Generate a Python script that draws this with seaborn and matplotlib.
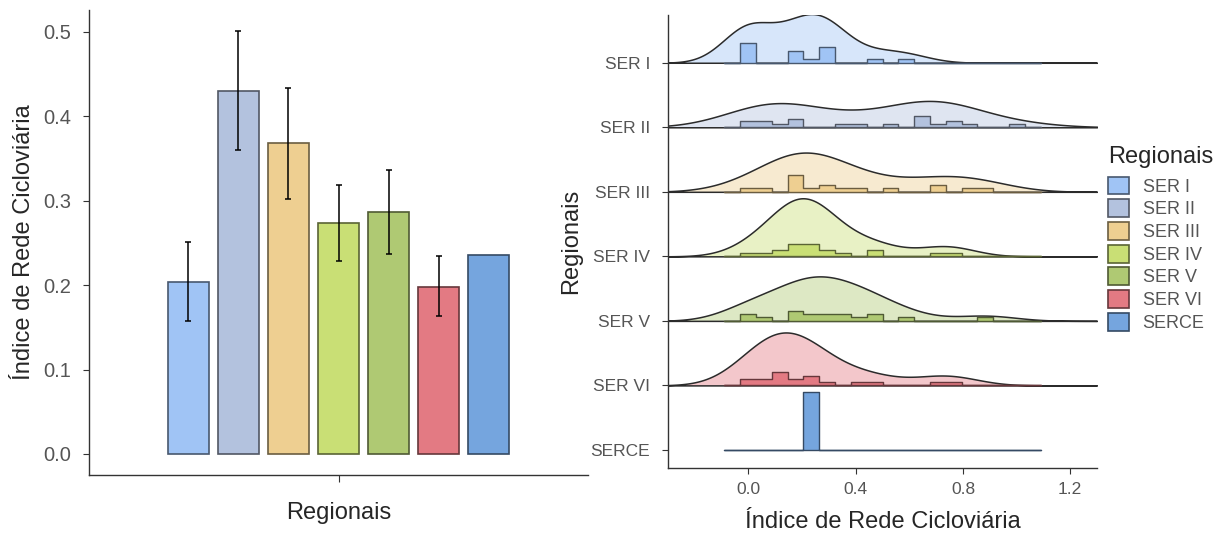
import numpy as np
import pandas as pd
import matplotlib
matplotlib.use('Agg')
import matplotlib.pyplot as plt
import matplotlib.transforms as mtransforms
from matplotlib.patches import Patch
from matplotlib.colors import to_rgb
import seaborn as sns

# ─── Dados ────────────────────────────────────────────────────────────────────
REGIONAIS = ['SER I', 'SER II', 'SER III', 'SER IV', 'SER V', 'SER VI', 'SERCE']
CORES     = ['#A0C4F5', '#B3C2DE', '#EECF91', '#C9DF75', '#AFC973', '#E37A83', '#75A5DE']

# média e intervalo (barra de erro) por regional
MEDIA  = [0.204, 0.430, 0.368, 0.274, 0.287, 0.198, 0.236]
IC_INF = [0.158, 0.360, 0.302, 0.229, 0.237, 0.163, np.nan]
IC_SUP = [0.251, 0.501, 0.434, 0.319, 0.336, 0.234, np.nan]

# histograma: 20 classes entre -0.09 e 1.09
BIN_INI, BIN_FIM, N_BINS = -0.09, 1.09, 20
CONT_SER_I   = [0, 5, 0, 0, 3, 1, 4, 0, 0, 1, 0, 1, 0, 0, 0, 0, 0, 0, 0, 0]
CONT_SER_II  = [0, 2, 2, 1, 3, 0, 0, 1, 1, 0, 1, 0, 4, 1, 2, 1, 0, 0, 1, 0]
CONT_SER_III = [0, 1, 1, 0, 5, 1, 2, 1, 1, 0, 1, 0, 0, 2, 0, 1, 1, 0, 0, 0]
CONT_SER_IV  = [0, 1, 1, 2, 4, 4, 2, 1, 0, 2, 0, 0, 0, 1, 1, 0, 0, 0, 0, 0]
CONT_SER_V   = [0, 2, 1, 0, 3, 2, 2, 2, 1, 2, 0, 1, 0, 0, 0, 0, 1, 0, 0, 0]
CONT_SER_VI  = [0, 2, 2, 4, 2, 3, 1, 0, 1, 1, 0, 0, 0, 1, 1, 0, 0, 0, 0, 0]
CONT_SERCE   = [0, 0, 0, 0, 0, 1, 0, 0, 0, 0, 0, 0, 0, 0, 0, 0, 0, 0, 0, 0]
CONTAGENS = [CONT_SER_I, CONT_SER_II, CONT_SER_III, CONT_SER_IV,
             CONT_SER_V, CONT_SER_VI, CONT_SERCE]

ESCALA = 0.9   # altura máxima das cristas (em linhas)


def escurecer(cor, f=0.5):
    return tuple(c * f for c in to_rgb(cor))


# ─── Estilo ───────────────────────────────────────────────────────────────────
sns.set_style('ticks')
plt.rcParams['font.family'] = ['Liberation Sans', 'DejaVu Sans']
CINZA_TXT = '#555555'
CINZA_EIXO = '#333333'
TAM_TITULO = 17

fig = plt.figure(figsize=(12.25, 5.34), dpi=100)
ax1 = fig.add_axes([89 / 1225, 1 - 475 / 534, (588 - 89) / 1225, (475 - 10) / 534])
ax2 = fig.add_axes([668 / 1225, 1 - 468 / 534, (1097 - 668) / 1225, (468 - 15) / 534])

# ─── Painel esquerdo: barras com erro ─────────────────────────────────────────
df_bar = pd.DataFrame({'grupo': [''] * len(REGIONAIS),
                       'Regionais': REGIONAIS, 'indice': MEDIA})
sns.barplot(data=df_bar, x='grupo', y='indice', hue='Regionais',
            hue_order=REGIONAIS, palette=CORES, saturation=1, width=0.9, gap=0.18,
            errorbar=None, legend=False, linewidth=1.2, ax=ax1)
for cont, cor in zip(ax1.containers, CORES):
    for barra in cont:
        barra.set_edgecolor(escurecer(cor, 0.45))

xs = np.array([c[0].get_x() + c[0].get_width() / 2 for c in ax1.containers])
media = np.array(MEDIA)
inf, sup = np.array(IC_INF), np.array(IC_SUP)
ok = ~np.isnan(inf)
ax1.errorbar(xs[ok], media[ok], yerr=[media[ok] - inf[ok], sup[ok] - media[ok]],
             fmt='none', ecolor='black', elinewidth=1.1, capsize=2, capthick=1.1)

ax1.set_xlim(-0.64, 0.64)
ax1.set_ylim(-0.0249, 0.526)
ax1.set_yticks([0.0, 0.1, 0.2, 0.3, 0.4, 0.5])
ax1.set_yticklabels(['0.0', '0.1', '0.2', '0.3', '0.4', '0.5'])
ax1.set_xticks([0])
ax1.set_xticklabels([''])
ax1.set_xlabel('Regionais', fontsize=TAM_TITULO, labelpad=11)
ax1.set_ylabel('Índice de Rede Cicloviária', fontsize=TAM_TITULO, labelpad=6)
ax1.tick_params(axis='y', labelsize=14.5, labelcolor=CINZA_TXT, color=CINZA_EIXO,
                length=4, pad=9)
ax1.tick_params(axis='x', color=CINZA_EIXO, length=5)

# ─── Painel direito: cristas (densidade + histograma) ────────────────────────
bordas = np.linspace(BIN_INI, BIN_FIM, N_BINS + 1)
centros = (bordas[:-1] + bordas[1:]) / 2
n_reg = len(REGIONAIS)

dens_arts, hist_arts = [], []
for i, (nome, cont, cor) in enumerate(zip(REGIONAIS, CONTAGENS, CORES)):
    base = n_reg - 1 - i
    obs = np.repeat(centros, cont)
    if len(obs) > 1:
        n0 = len(ax2.collections)
        sns.kdeplot(x=obs, ax=ax2, fill=True, bw_method='silverman', bw_adjust=0.85,
                    cut=10, clip=(-0.30, 1.30), gridsize=400,
                    facecolor=(*to_rgb(cor), 0.42), edgecolor='#2b2b2b', linewidth=1.1)
        dens_arts.append((ax2.collections[n0:], base))
    n0 = len(ax2.collections)
    sns.histplot(x=obs, bins=bordas, stat='density', element='step', fill=True,
                 ax=ax2, facecolor=cor, edgecolor=escurecer(cor, 0.45), linewidth=1.0)
    hist_arts.append((ax2.collections[n0:], base))


def reescalar(grupos):
    topo = max(p.vertices[:, 1].max() for arts, _ in grupos for a in arts for p in a.get_paths())
    for arts, base in grupos:
        tr = mtransforms.Affine2D().scale(1, ESCALA / topo).translate(0, base) + ax2.transData
        for a in arts:
            a.set_transform(tr)


reescalar(dens_arts)
reescalar(hist_arts)

ax2.set_xlim(-0.30, 1.30)
ax2.set_ylim(-0.28, 6.74)
ax2.set_xticks([0.0, 0.4, 0.8, 1.2])
ax2.set_xticklabels(['0.0', '0.4', '0.8', '1.2'])
ax2.set_yticks(range(n_reg))
ax2.set_yticklabels(REGIONAIS[::-1])
ax2.set_xlabel('Índice de Rede Cicloviária', fontsize=TAM_TITULO, labelpad=10)
ax2.set_ylabel('Regionais', fontsize=TAM_TITULO, labelpad=6)
ax2.tick_params(axis='both', labelsize=12.5, labelcolor=CINZA_TXT, color=CINZA_EIXO, length=4)
ax2.tick_params(axis='y', pad=9)
ax2.tick_params(axis='x', pad=6)

for ax in (ax1, ax2):
    sns.despine(ax=ax)
    for s in ('left', 'bottom'):
        ax.spines[s].set_color(CINZA_EIXO)
        ax.spines[s].set_linewidth(1.0)

# ─── Legenda ──────────────────────────────────────────────────────────────────
handles = [Patch(facecolor=c, edgecolor=escurecer(c, 0.45), linewidth=1.2) for c in CORES]
leg = fig.legend(handles, REGIONAIS, title='Regionais', loc='upper left',
                 bbox_to_anchor=(1101 / 1225, 1 - 139 / 534), frameon=False,
                 fontsize=13, title_fontsize=TAM_TITULO, handlelength=1.15, handleheight=1.15,
                 labelspacing=0.2, handletextpad=0.75, borderaxespad=0)
leg._legend_box.align = 'left'
leg._legend_box.sep = 6
for t in leg.get_texts():
    t.set_color(CINZA_TXT)

fig.savefig('out.png', dpi=100)
